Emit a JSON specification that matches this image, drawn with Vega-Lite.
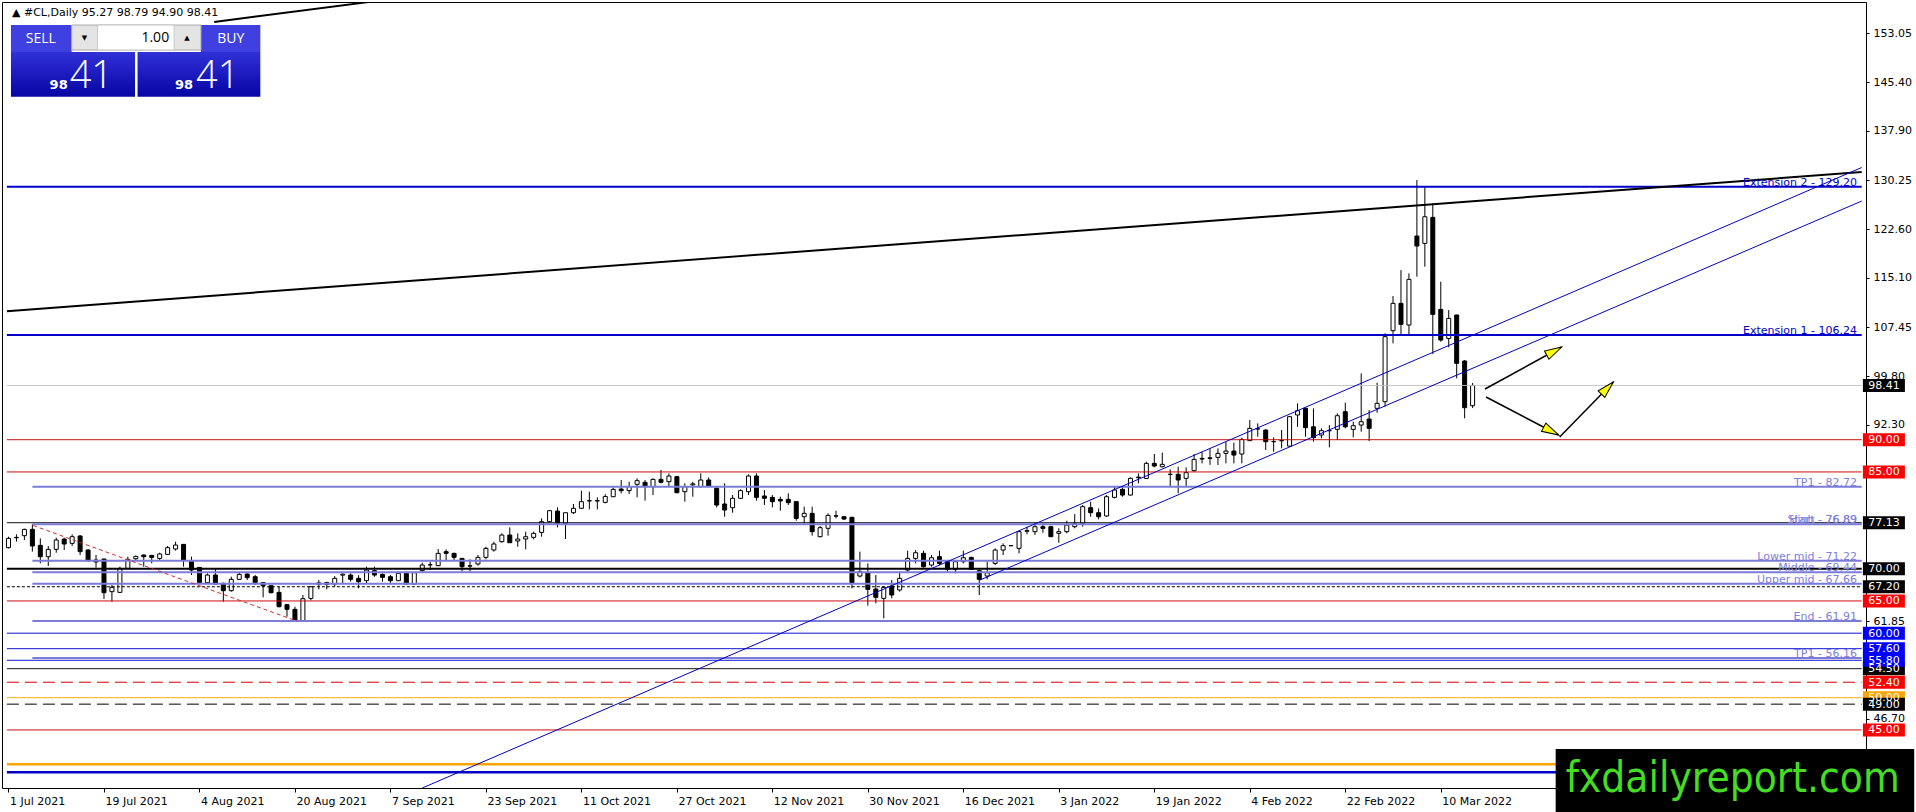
{
  "$schema": "https://vega.github.io/schema/vega-lite/v6.json",
  "width": 1864,
  "height": 786,
  "autosize": {"type": "none"},
  "padding": {"left": 2, "top": 2, "right": 50, "bottom": 24},
  "background": "#ffffff",
  "config": {"view": {"stroke": "#000000", "strokeWidth": 1}, "axis": {"grid": false, "title": null}},
  "datasets": {
    "candles": [
      {"i":0,"o":73.26,"h":74.96,"l":73.15,"c":74.70},{"i":1,"o":74.80,"h":75.32,"l":74.19,"c":74.85},{"i":2,"o":75.12,"h":76.20,"l":74.45,"c":76.10},{"i":3,"o":76.10,"h":76.89,"l":72.64,"c":73.52},{"i":4,"o":73.62,"h":74.70,"l":70.83,"c":71.86},
      {"i":5,"o":71.86,"h":73.52,"l":70.42,"c":73.00},{"i":6,"o":73.00,"h":74.81,"l":72.48,"c":74.45},{"i":7,"o":74.60,"h":74.81,"l":72.90,"c":73.83},{"i":8,"o":73.93,"h":75.32,"l":73.52,"c":74.96},{"i":9,"o":75.07,"h":75.22,"l":72.12,"c":72.64},
      {"i":10,"o":72.90,"h":73.00,"l":71.10,"c":71.24},{"i":11,"o":71.35,"h":72.12,"l":70.16,"c":71.04},{"i":12,"o":71.50,"h":71.55,"l":65.30,"c":66.28},{"i":13,"o":66.44,"h":67.47,"l":64.89,"c":67.11},{"i":14,"o":66.33,"h":70.31,"l":66.30,"c":70.05},
      {"i":15,"o":70.05,"h":71.86,"l":69.90,"c":71.45},{"i":16,"o":71.55,"h":72.02,"l":71.35,"c":71.91},{"i":17,"o":72.12,"h":72.22,"l":70.31,"c":71.86},{"i":18,"o":72.07,"h":72.12,"l":70.83,"c":71.76},{"i":19,"o":71.60,"h":72.48,"l":71.35,"c":72.28},
      {"i":20,"o":72.22,"h":73.52,"l":72.12,"c":73.26},{"i":21,"o":73.05,"h":74.19,"l":72.79,"c":73.67},{"i":22,"o":73.77,"h":73.80,"l":70.31,"c":71.35},{"i":23,"o":71.24,"h":71.86,"l":69.02,"c":69.79},{"i":24,"o":70.20,"h":70.25,"l":67.57,"c":67.83},
      {"i":25,"o":67.83,"h":69.28,"l":67.73,"c":69.02},{"i":26,"o":69.02,"h":70.05,"l":67.62,"c":67.62},{"i":27,"o":67.73,"h":67.83,"l":64.89,"c":66.59},{"i":28,"o":66.59,"h":68.76,"l":66.44,"c":68.35},{"i":29,"o":68.35,"h":69.38,"l":68.24,"c":69.12},
      {"i":30,"o":69.17,"h":69.28,"l":68.24,"c":68.61},{"i":31,"o":68.76,"h":69.02,"l":67.47,"c":67.83},{"i":32,"o":67.83,"h":67.93,"l":65.56,"c":67.37},{"i":33,"o":67.37,"h":67.40,"l":66.18,"c":66.28},{"i":34,"o":66.33,"h":67.21,"l":64.00,"c":64.11},
      {"i":35,"o":64.42,"h":64.52,"l":62.56,"c":63.70},{"i":36,"o":63.70,"h":64.11,"l":61.80,"c":61.95},{"i":37,"o":61.95,"h":65.92,"l":61.89,"c":65.35},{"i":38,"o":65.40,"h":67.25,"l":65.10,"c":67.20},{"i":39,"o":67.60,"h":68.25,"l":66.80,"c":67.80},
      {"i":40,"o":67.85,"h":67.98,"l":66.80,"c":67.57},{"i":41,"o":67.62,"h":68.86,"l":67.21,"c":68.50},{"i":42,"o":69.00,"h":69.28,"l":67.62,"c":69.15},{"i":43,"o":69.02,"h":69.28,"l":68.00,"c":68.35},{"i":44,"o":68.50,"h":69.00,"l":66.95,"c":67.98},
      {"i":45,"o":68.14,"h":70.31,"l":67.62,"c":69.79},{"i":46,"o":69.69,"h":70.31,"l":68.76,"c":69.02},{"i":47,"o":69.12,"h":69.28,"l":67.98,"c":68.66},{"i":48,"o":68.76,"h":69.02,"l":67.62,"c":68.14},{"i":49,"o":68.14,"h":69.54,"l":68.10,"c":69.28},
      {"i":50,"o":69.28,"h":69.54,"l":67.60,"c":67.62},{"i":51,"o":67.62,"h":69.45,"l":67.55,"c":69.38},{"i":52,"o":69.70,"h":70.93,"l":69.54,"c":70.57},{"i":53,"o":70.60,"h":71.10,"l":69.80,"c":70.60},{"i":54,"o":70.47,"h":73.05,"l":70.40,"c":72.38},
      {"i":55,"o":72.64,"h":73.00,"l":71.24,"c":72.38},{"i":56,"o":72.38,"h":72.48,"l":71.35,"c":71.76},{"i":57,"o":71.60,"h":71.65,"l":69.54,"c":70.31},{"i":58,"o":70.40,"h":71.45,"l":69.54,"c":70.45},{"i":59,"o":70.73,"h":72.12,"l":70.47,"c":71.76},
      {"i":60,"o":71.76,"h":73.41,"l":71.45,"c":73.15},{"i":61,"o":72.90,"h":74.19,"l":72.64,"c":73.83},{"i":62,"o":74.19,"h":75.48,"l":74.03,"c":75.22},{"i":63,"o":75.22,"h":76.41,"l":74.00,"c":74.03},{"i":64,"o":74.30,"h":75.48,"l":73.41,"c":74.60},
      {"i":65,"o":74.60,"h":75.74,"l":73.00,"c":74.96},{"i":66,"o":74.86,"h":75.74,"l":74.55,"c":75.48},{"i":67,"o":75.63,"h":77.80,"l":74.96,"c":77.29},{"i":68,"o":77.29,"h":79.10,"l":77.20,"c":79.00},{"i":69,"o":78.94,"h":79.51,"l":76.41,"c":77.03},
      {"i":70,"o":77.03,"h":78.70,"l":74.60,"c":78.68},{"i":71,"o":78.68,"h":80.03,"l":78.48,"c":79.36},{"i":72,"o":79.36,"h":82.10,"l":79.30,"c":80.39},{"i":73,"o":80.50,"h":81.94,"l":79.20,"c":80.55},{"i":74,"o":80.50,"h":81.06,"l":79.20,"c":80.55},
      {"i":75,"o":80.29,"h":81.55,"l":80.13,"c":81.20},{"i":76,"o":81.16,"h":82.56,"l":81.10,"c":82.30},{"i":77,"o":82.35,"h":83.75,"l":81.68,"c":82.10},{"i":78,"o":82.10,"h":83.49,"l":81.58,"c":82.72},{"i":79,"o":83.08,"h":84.01,"l":81.06,"c":83.65},
      {"i":80,"o":83.39,"h":83.75,"l":80.55,"c":82.72},{"i":81,"o":82.72,"h":84.01,"l":81.42,"c":83.85},{"i":82,"o":83.85,"h":85.30,"l":83.23,"c":83.39},{"i":83,"o":83.49,"h":84.78,"l":82.72,"c":84.37},{"i":84,"o":84.27,"h":84.40,"l":81.70,"c":81.78},
      {"i":85,"o":81.94,"h":83.23,"l":80.39,"c":82.72},{"i":86,"o":83.00,"h":83.49,"l":81.16,"c":83.15},{"i":87,"o":82.72,"h":84.78,"l":82.60,"c":83.75},{"i":88,"o":83.75,"h":84.16,"l":82.72,"c":82.82},{"i":89,"o":82.46,"h":82.82,"l":79.51,"c":79.87},
      {"i":90,"o":80.03,"h":83.23,"l":78.06,"c":79.10},{"i":91,"o":79.46,"h":81.42,"l":78.68,"c":80.91},{"i":92,"o":80.91,"h":82.30,"l":80.80,"c":82.10},{"i":93,"o":81.94,"h":84.63,"l":81.42,"c":84.37},{"i":94,"o":84.37,"h":84.78,"l":80.55,"c":81.06},
      {"i":95,"o":81.27,"h":82.20,"l":79.87,"c":80.91},{"i":96,"o":81.06,"h":81.42,"l":79.51,"c":80.39},{"i":97,"o":80.75,"h":81.16,"l":78.99,"c":80.50},{"i":98,"o":80.75,"h":81.68,"l":79.87,"c":80.24},{"i":99,"o":80.39,"h":80.40,"l":77.44,"c":77.80},
      {"i":100,"o":78.06,"h":79.61,"l":77.03,"c":78.58},{"i":101,"o":78.58,"h":79.61,"l":75.12,"c":75.74},{"i":102,"o":74.96,"h":76.62,"l":74.86,"c":76.36},{"i":103,"o":76.26,"h":78.58,"l":75.12,"c":78.27},{"i":104,"o":78.20,"h":78.99,"l":77.80,"c":78.15},
      {"i":105,"o":78.06,"h":78.10,"l":77.55,"c":77.70},{"i":106,"o":77.96,"h":78.06,"l":66.95,"c":67.83},{"i":107,"o":68.86,"h":72.64,"l":68.65,"c":69.54},{"i":108,"o":69.38,"h":70.83,"l":64.27,"c":66.80},{"i":109,"o":66.85,"h":69.02,"l":64.63,"c":65.56},
      {"i":110,"o":65.40,"h":67.21,"l":62.30,"c":67.11},{"i":111,"o":67.31,"h":68.24,"l":65.40,"c":65.92},{"i":112,"o":66.70,"h":69.54,"l":66.44,"c":68.50},{"i":113,"o":69.79,"h":72.79,"l":69.54,"c":71.60},{"i":114,"o":71.60,"h":72.89,"l":70.83,"c":72.48},
      {"i":115,"o":72.38,"h":72.79,"l":70.15,"c":70.31},{"i":116,"o":70.57,"h":72.12,"l":70.31,"c":71.70},{"i":117,"o":71.86,"h":72.79,"l":70.57,"c":70.83},{"i":118,"o":71.08,"h":71.34,"l":69.38,"c":69.90},{"i":119,"o":69.90,"h":71.34,"l":69.28,"c":71.08},
      {"i":120,"o":71.08,"h":72.79,"l":70.83,"c":71.70},{"i":121,"o":71.75,"h":71.86,"l":69.90,"c":69.90},{"i":122,"o":69.69,"h":70.05,"l":65.92,"c":68.35},{"i":123,"o":68.86,"h":71.08,"l":68.35,"c":69.38},{"i":124,"o":70.83,"h":73.15,"l":70.57,"c":72.89},
      {"i":125,"o":72.89,"h":73.93,"l":72.12,"c":73.57},{"i":126,"o":73.57,"h":73.60,"l":73.55,"c":73.57},{"i":127,"o":73.15,"h":75.89,"l":72.38,"c":75.74},{"i":128,"o":75.80,"h":76.51,"l":75.33,"c":75.90},{"i":129,"o":75.74,"h":77.13,"l":75.22,"c":76.51},
      {"i":130,"o":76.51,"h":77.13,"l":75.58,"c":76.25},{"i":131,"o":76.51,"h":76.66,"l":74.96,"c":74.96},{"i":132,"o":75.48,"h":76.26,"l":74.03,"c":75.74},{"i":133,"o":75.74,"h":77.44,"l":75.48,"c":76.77},{"i":134,"o":76.51,"h":78.48,"l":76.26,"c":77.03},
      {"i":135,"o":77.03,"h":79.87,"l":76.51,"c":79.61},{"i":136,"o":79.46,"h":80.39,"l":78.06,"c":78.68},{"i":137,"o":78.68,"h":79.35,"l":77.65,"c":78.06},{"i":138,"o":78.17,"h":81.42,"l":78.06,"c":81.16},{"i":139,"o":81.06,"h":82.82,"l":80.90,"c":82.20},
      {"i":140,"o":82.30,"h":82.82,"l":81.16,"c":81.42},{"i":141,"o":81.42,"h":84.16,"l":81.32,"c":84.01},{"i":142,"o":84.10,"h":84.78,"l":83.23,"c":84.20},{"i":143,"o":84.00,"h":86.59,"l":83.90,"c":86.33},{"i":144,"o":86.33,"h":87.78,"l":85.71,"c":85.92},
      {"i":145,"o":85.81,"h":87.98,"l":85.71,"c":86.18},{"i":146,"o":84.60,"h":85.40,"l":82.70,"c":84.65},{"i":147,"o":84.63,"h":85.81,"l":81.68,"c":83.75},{"i":148,"o":84.00,"h":85.71,"l":82.72,"c":84.89},{"i":149,"o":85.20,"h":87.78,"l":85.04,"c":86.95},
      {"i":150,"o":87.00,"h":88.14,"l":86.33,"c":87.10},{"i":151,"o":87.10,"h":88.66,"l":86.10,"c":87.20},{"i":152,"o":87.26,"h":88.66,"l":86.07,"c":87.88},{"i":153,"o":87.88,"h":89.69,"l":86.33,"c":88.24},{"i":154,"o":88.24,"h":89.54,"l":86.33,"c":87.62},
      {"i":155,"o":87.78,"h":90.31,"l":86.33,"c":90.05},{"i":156,"o":89.85,"h":93.05,"l":89.80,"c":91.76},{"i":157,"o":91.66,"h":92.53,"l":90.46,"c":91.70},{"i":158,"o":91.50,"h":91.60,"l":88.40,"c":89.69},{"i":159,"o":89.70,"h":90.36,"l":88.14,"c":89.70},
      {"i":160,"o":89.85,"h":91.50,"l":88.66,"c":89.85},{"i":161,"o":89.00,"h":93.67,"l":88.90,"c":93.57},{"i":162,"o":93.83,"h":95.63,"l":92.00,"c":94.49},{"i":163,"o":94.86,"h":95.00,"l":90.46,"c":91.86},{"i":164,"o":92.00,"h":94.86,"l":89.69,"c":90.31},
      {"i":165,"o":90.72,"h":91.76,"l":90.20,"c":91.40},{"i":166,"o":91.40,"h":92.27,"l":88.81,"c":91.40},{"i":167,"o":91.60,"h":94.08,"l":89.95,"c":93.72},{"i":168,"o":94.34,"h":95.74,"l":91.76,"c":92.00},{"i":169,"o":91.60,"h":92.79,"l":90.36,"c":92.17},
      {"i":170,"o":92.27,"h":100.28,"l":91.24,"c":92.79},{"i":171,"o":93.20,"h":94.60,"l":89.80,"c":91.76},{"i":172,"o":94.86,"h":98.84,"l":94.18,"c":95.63},{"i":173,"o":95.89,"h":106.50,"l":95.12,"c":105.97},{"i":174,"o":106.90,"h":112.27,"l":104.94,"c":111.14},
      {"i":175,"o":111.14,"h":116.30,"l":106.23,"c":107.88},{"i":176,"o":107.78,"h":115.79,"l":106.23,"c":114.86},{"i":177,"o":121.58,"h":130.26,"l":115.27,"c":120.03},{"i":178,"o":120.44,"h":129.33,"l":116.82,"c":124.57},{"i":179,"o":124.47,"h":126.64,"l":103.28,"c":109.43},
      {"i":180,"o":110.20,"h":114.50,"l":105.19,"c":105.45},{"i":181,"o":105.70,"h":110.10,"l":104.32,"c":108.81},{"i":182,"o":109.33,"h":109.40,"l":99.51,"c":101.84},{"i":183,"o":102.20,"h":102.35,"l":93.31,"c":94.96},{"i":184,"o":95.27,"h":98.79,"l":94.90,"c":98.41}
    ],
    "levels": [
      {"p":129.20,"kind":"ext","i":-0.2,"box":false},
      {"p":106.24,"kind":"ext","i":-0.2,"box":false},
      {"p":90.00,"kind":"red","i":-0.2,"box":true},
      {"p":85.00,"kind":"red","i":-0.2,"box":true},
      {"p":82.72,"kind":"fib","i":3,"box":false},
      {"p":77.13,"kind":"blk1","i":-0.2,"box":true},
      {"p":76.89,"kind":"fib","i":3,"box":false},
      {"p":71.22,"kind":"fib","i":3,"box":false},
      {"p":70.00,"kind":"blk2","i":-0.2,"box":true},
      {"p":69.44,"kind":"fib","i":3,"box":false},
      {"p":67.66,"kind":"fib","i":3,"box":false},
      {"p":67.20,"kind":"dot","i":-0.2,"box":true},
      {"p":65.00,"kind":"red","i":-0.2,"box":true},
      {"p":61.91,"kind":"fib","i":3,"box":false},
      {"p":60.00,"kind":"blue","i":-0.2,"box":true},
      {"p":56.16,"kind":"fib","i":3,"box":false},
      {"p":54.50,"kind":"blk1","i":-0.2,"box":true},
      {"p":55.80,"kind":"blue","i":-0.2,"box":true},
      {"p":57.60,"kind":"blue","i":-0.2,"box":true},
      {"p":52.40,"kind":"reddash","i":-0.2,"box":true},
      {"p":50.00,"kind":"orange","i":-0.2,"box":true},
      {"p":49.00,"kind":"blkdash","i":-0.2,"box":true},
      {"p":45.00,"kind":"red","i":-0.2,"box":true},
      {"p":39.70,"kind":"orange2","i":-0.2,"box":false},
      {"p":38.45,"kind":"navy2","i":-0.2,"box":false},
      {"p":98.41,"kind":"cur","i":-0.2,"box":true}
    ],
    "tags": [
      {"p":129.20,"t":"Extension 2 - 129.20","kind":"ext"},
      {"p":106.24,"t":"Extension 1 - 106.24","kind":"ext"},
      {"p":82.72,"t":"TP1 - 82.72","kind":"fib"},
      {"p":76.89,"t":"Start - 76.89","kind":"fib"},
      {"p":76.89,"t":"High - 76.89","kind":"fib"},
      {"p":71.22,"t":"Lower mid - 71.22","kind":"fib"},
      {"p":69.44,"t":"Middle - 69.44","kind":"fib"},
      {"p":67.66,"t":"Upper mid - 67.66","kind":"fib"},
      {"p":61.91,"t":"End - 61.91","kind":"fib"},
      {"p":56.16,"t":"TP1 - 56.16","kind":"fib"}
    ],
    "trends": [
      {"id":"t1","kind":"blk","i":-0.2,"p":109.93},{"id":"t1","kind":"blk","i":232.9,"p":131.5},
      {"id":"t2","kind":"blk","i":25.85,"p":154.76},{"id":"t2","kind":"blk","i":46.2,"p":158.0},
      {"id":"up","kind":"chan","i":52.0,"p":36.0},{"id":"up","kind":"chan","i":232.9,"p":132.2},
      {"id":"lo","kind":"chan","i":122.1,"p":68.25},{"id":"lo","kind":"chan","i":232.9,"p":127.0},
      {"id":"dn","kind":"dash","i":3.1,"p":76.7},{"id":"dn","kind":"dash","i":36.3,"p":61.85}
    ],
    "arrows": [
      {"id":"a1","i":185.56,"p":97.86},{"id":"a1","i":195.19,"p":104.37},
      {"id":"a2","i":185.69,"p":96.62},{"id":"a2","i":194.81,"p":90.73},
      {"id":"a3","i":194.94,"p":90.42},{"id":"a3","i":201.69,"p":98.95}
    ],
    "heads": [
      {"id":"a1","i":194.25,"p":103.74},
      {"id":"a2","i":193.88,"p":91.33},
      {"id":"a3","i":200.94,"p":98.0}
    ],
    "panel": [
      {"part":"top","i":0.31,"i2":7.94,"p":154.29,"p2":150.11},
      {"part":"top","i":24.19,"i2":31.65,"p":154.29,"p2":150.11},
      {"part":"spin","i":7.94,"i2":24.19,"p":154.29,"p2":150.42},
      {"part":"field","i":11.19,"i2":20.81,"p":154.29,"p2":150.42},
      {"part":"body","i":0.31,"i2":15.9,"p":150.11,"p2":143.18},
      {"part":"body","i":16.22,"i2":31.65,"p":150.11,"p2":143.18}
    ],
    "ptext": [
      {"role":"head","t":"▲  #CL,Daily  95.27 98.79 94.90 98.41","i":0.44,"p":156.15},
      {"role":"btn","t":"SELL","i":4.06,"p":152.12},
      {"role":"btn","t":"BUY","i":27.94,"p":152.12},
      {"role":"lot","t":"1.00","i":20.19,"p":152.28},
      {"role":"arr","t":"▼","i":9.56,"p":152.28},
      {"role":"arr","t":"▲","i":22.44,"p":152.28},
      {"role":"small","t":"98","i":7.44,"p":144.37},
      {"role":"small","t":"98","i":23.19,"p":144.37},
      {"role":"big","t":"41","i":7.69,"p":144.53},
      {"role":"big","t":"41","i":23.56,"p":144.53}
    ],
    "mark": [
      {"t":"fxdailyreport.com","i":194.44,"i2":239.5,"p":42.05,"p2":30.0,"ti":216.69,"tp":35.38}
    ]
  },
  "layer": [
    {
      "data": {"name": "candles"},
      "mark": {"type": "rule", "color": "#000000", "strokeWidth": 1},
      "encoding": {
        "x": {"field": "i", "type": "quantitative", "scale": {"domain": [-0.1875, 232.8125], "nice": false, "zero": false},
          "axis": {"orient": "bottom", "values": [0,12,24,36,48,60,72,84,96,108,120,132,144,156,168,180],
            "labelExpr": "['1 Jul 2021','19 Jul 2021','4 Aug 2021','20 Aug 2021','7 Sep 2021','23 Sep 2021','11 Oct 2021','27 Oct 2021','12 Nov 2021','30 Nov 2021','16 Dec 2021','3 Jan 2022','19 Jan 2022','4 Feb 2022','22 Feb 2022','10 Mar 2022'][datum.value/12]",
            "title": null, "grid": false, "domain": false, "ticks": true, "tickSize": 4, "tickColor": "#000000",
            "labelAlign": "left", "labelBaseline": "top", "labelPadding": 3, "labelOffset": 1,
            "labelFont": "DejaVu Sans", "labelFontSize": 11, "labelColor": "#000000",
            "labelOverlap": false, "labelFlush": false, "labelBound": false}},
        "y": {"field": "l", "type": "quantitative", "scale": {"domain": [36.0, 157.86], "nice": false, "zero": false},
          "axis": {"orient": "right", "values": [153.05,145.40,137.90,130.25,122.60,115.10,107.45,99.80,92.30,61.85,46.70],
            "format": ".2f", "title": null, "grid": false, "domain": false, "ticks": true, "tickSize": 3, "tickColor": "#000000",
            "labelPadding": 4, "labelFont": "DejaVu Sans", "labelFontSize": 11, "labelColor": "#000000",
            "labelAlign": "left", "labelBaseline": "middle", "labelOverlap": false, "labelFlush": false, "labelBound": false}},
        "y2": {"field": "h"}
      }
    },
    {
      "data": {"name": "candles"},
      "mark": {"type": "bar", "width": 4, "stroke": "#000000", "strokeWidth": 1},
      "encoding": {
        "x": {"field": "i", "type": "quantitative", "scale": {"domain": [-0.1875, 232.8125], "nice": false, "zero": false}},
        "y": {"field": "o", "type": "quantitative", "scale": {"domain": [36.0, 157.86], "nice": false, "zero": false}},
        "y2": {"field": "c"},
        "fill": {"condition": {"test": "datum.c >= datum.o", "value": "#ffffff"}, "value": "#000000"}
      }
    },
    {
      "data": {"name": "levels"},
      "transform": [{"filter": "indexof(['cur','red','blk1','dot','blue','reddash','orange','blkdash'], datum.kind) >= 0"}],
      "mark": {"type": "rule", "strokeWidth": 1, "clip": true},
      "encoding": {
        "x": {"field": "i", "type": "quantitative", "scale": {"domain": [-0.1875, 232.8125], "nice": false, "zero": false}},
        "x2": {"datum": 232.9},
        "y": {"field": "p", "type": "quantitative", "scale": {"domain": [36.0, 157.86], "nice": false, "zero": false}},
        "stroke": {"field": "kind", "type": "nominal", "legend": null,
          "scale": {"domain": ["ext","cur","red","fib","blk1","blk2","dot","blue","reddash","orange","blkdash","orange2","navy2"],
            "range": ["#0000c8","#c0c0c0","#c80000","#7b7bd8","#000000","#000000","#000000","#0000d0","#d00000","#ffa500","#000000","#ffa500","#0000c0"]}},
        "strokeDash": {"field": "kind", "type": "nominal", "legend": null,
          "scale": {"domain": ["ext","cur","red","fib","blk1","blk2","dot","blue","reddash","orange","blkdash","orange2","navy2"],
            "range": [[1,0],[1,0],[1,0],[1,0],[1,0],[1,0],[3,2],[1,0],[12,6],[1,0],[12,6],[1,0],[1,0]]}}
      }
    },
    {
      "data": {"name": "levels"},
      "transform": [{"filter": "indexof(['ext','fib','blk2'], datum.kind) >= 0"}],
      "mark": {"type": "rule", "strokeWidth": 2, "clip": true},
      "encoding": {
        "x": {"field": "i", "type": "quantitative", "scale": {"domain": [-0.1875, 232.8125], "nice": false, "zero": false}},
        "x2": {"datum": 232.9},
        "y": {"field": "p", "type": "quantitative", "scale": {"domain": [36.0, 157.86], "nice": false, "zero": false}},
        "stroke": {"field": "kind", "type": "nominal", "legend": null,
          "scale": {"domain": ["ext","cur","red","fib","blk1","blk2","dot","blue","reddash","orange","blkdash","orange2","navy2"],
            "range": ["#0000c8","#c0c0c0","#c80000","#7b7bd8","#000000","#000000","#000000","#0000d0","#d00000","#ffa500","#000000","#ffa500","#0000c0"]}}
      }
    },
    {
      "data": {"name": "levels"},
      "transform": [{"filter": "indexof(['orange2','navy2'], datum.kind) >= 0"}],
      "mark": {"type": "rule", "strokeWidth": 2.5, "clip": true},
      "encoding": {
        "x": {"field": "i", "type": "quantitative", "scale": {"domain": [-0.1875, 232.8125], "nice": false, "zero": false}},
        "x2": {"datum": 232.9},
        "y": {"field": "p", "type": "quantitative", "scale": {"domain": [36.0, 157.86], "nice": false, "zero": false}},
        "stroke": {"field": "kind", "type": "nominal", "legend": null,
          "scale": {"domain": ["ext","cur","red","fib","blk1","blk2","dot","blue","reddash","orange","blkdash","orange2","navy2"],
            "range": ["#0000c8","#c0c0c0","#c80000","#7b7bd8","#000000","#000000","#000000","#0000d0","#d00000","#ffa500","#000000","#ffa500","#0000c0"]}}
      }
    },
    {
      "data": {"name": "trends"},
      "transform": [{"filter": "datum.kind == 'blk'"}],
      "mark": {"type": "line", "color": "#000000", "strokeWidth": 2, "clip": true},
      "encoding": {
        "x": {"field": "i", "type": "quantitative", "scale": {"domain": [-0.1875, 232.8125], "nice": false, "zero": false}},
        "y": {"field": "p", "type": "quantitative", "scale": {"domain": [36.0, 157.86], "nice": false, "zero": false}},
        "detail": {"field": "id"}
      }
    },
    {
      "data": {"name": "trends"},
      "transform": [{"filter": "datum.kind == 'chan'"}],
      "mark": {"type": "line", "color": "#0000c8", "strokeWidth": 1, "clip": true},
      "encoding": {
        "x": {"field": "i", "type": "quantitative", "scale": {"domain": [-0.1875, 232.8125], "nice": false, "zero": false}},
        "y": {"field": "p", "type": "quantitative", "scale": {"domain": [36.0, 157.86], "nice": false, "zero": false}},
        "detail": {"field": "id"}
      }
    },
    {
      "data": {"name": "trends"},
      "transform": [{"filter": "datum.kind == 'dash'"}],
      "mark": {"type": "line", "color": "#c83232", "strokeWidth": 1, "strokeDash": [4, 3], "clip": true},
      "encoding": {
        "x": {"field": "i", "type": "quantitative", "scale": {"domain": [-0.1875, 232.8125], "nice": false, "zero": false}},
        "y": {"field": "p", "type": "quantitative", "scale": {"domain": [36.0, 157.86], "nice": false, "zero": false}},
        "detail": {"field": "id"}
      }
    },
    {
      "data": {"name": "tags"},
      "mark": {"type": "text", "align": "right", "baseline": "alphabetic", "dy": -1, "font": "DejaVu Sans", "fontSize": 11},
      "encoding": {
        "x": {"datum": 232.3, "type": "quantitative", "scale": {"domain": [-0.1875, 232.8125], "nice": false, "zero": false}},
        "y": {"field": "p", "type": "quantitative", "scale": {"domain": [36.0, 157.86], "nice": false, "zero": false}},
        "text": {"field": "t"},
        "color": {"condition": {"test": "datum.kind == 'ext'", "value": "#0000c8"}, "value": "#8080dd"}
      }
    },
    {
      "data": {"name": "arrows"},
      "mark": {"type": "line", "color": "#000000", "strokeWidth": 1.5, "clip": true},
      "encoding": {
        "x": {"field": "i", "type": "quantitative", "scale": {"domain": [-0.1875, 232.8125], "nice": false, "zero": false}},
        "y": {"field": "p", "type": "quantitative", "scale": {"domain": [36.0, 157.86], "nice": false, "zero": false}},
        "detail": {"field": "id"}
      }
    },
    {
      "data": {"name": "heads"},
      "transform": [{"filter": "datum.id == 'a1'"}],
      "mark": {"type": "point", "shape": "M1,0L-1,-0.55L-1,0.55Z", "size": 289, "filled": true, "fill": "#ffff00", "stroke": "#000000", "strokeWidth": 1, "opacity": 1, "angle": 331.4},
      "encoding": {
        "x": {"field": "i", "type": "quantitative", "scale": {"domain": [-0.1875, 232.8125], "nice": false, "zero": false}},
        "y": {"field": "p", "type": "quantitative", "scale": {"domain": [36.0, 157.86], "nice": false, "zero": false}}
      }
    },
    {
      "data": {"name": "heads"},
      "transform": [{"filter": "datum.id == 'a2'"}],
      "mark": {"type": "point", "shape": "M1,0L-1,-0.55L-1,0.55Z", "size": 289, "filled": true, "fill": "#ffff00", "stroke": "#000000", "strokeWidth": 1, "opacity": 1, "angle": 27.5},
      "encoding": {
        "x": {"field": "i", "type": "quantitative", "scale": {"domain": [-0.1875, 232.8125], "nice": false, "zero": false}},
        "y": {"field": "p", "type": "quantitative", "scale": {"domain": [36.0, 157.86], "nice": false, "zero": false}}
      }
    },
    {
      "data": {"name": "heads"},
      "transform": [{"filter": "datum.id == 'a3'"}],
      "mark": {"type": "point", "shape": "M1,0L-1,-0.55L-1,0.55Z", "size": 289, "filled": true, "fill": "#ffff00", "stroke": "#000000", "strokeWidth": 1, "opacity": 1, "angle": 314.5},
      "encoding": {
        "x": {"field": "i", "type": "quantitative", "scale": {"domain": [-0.1875, 232.8125], "nice": false, "zero": false}},
        "y": {"field": "p", "type": "quantitative", "scale": {"domain": [36.0, 157.86], "nice": false, "zero": false}}
      }
    },
    {
      "data": {"name": "panel"},
      "transform": [{"filter": "datum.part == 'top'"}],
      "mark": {"type": "rect", "color": "#4040e0"},
      "encoding": {
        "x": {"field": "i", "type": "quantitative", "scale": {"domain": [-0.1875, 232.8125], "nice": false, "zero": false}},
        "x2": {"field": "i2"},
        "y": {"field": "p", "type": "quantitative", "scale": {"domain": [36.0, 157.86], "nice": false, "zero": false}},
        "y2": {"field": "p2"}
      }
    },
    {
      "data": {"name": "panel"},
      "transform": [{"filter": "datum.part == 'spin'"}],
      "mark": {"type": "rect", "fill": "#e4e4e4", "stroke": "#a8a8a8", "strokeWidth": 1},
      "encoding": {
        "x": {"field": "i", "type": "quantitative", "scale": {"domain": [-0.1875, 232.8125], "nice": false, "zero": false}},
        "x2": {"field": "i2"},
        "y": {"field": "p", "type": "quantitative", "scale": {"domain": [36.0, 157.86], "nice": false, "zero": false}},
        "y2": {"field": "p2"}
      }
    },
    {
      "data": {"name": "panel"},
      "transform": [{"filter": "datum.part == 'field'"}],
      "mark": {"type": "rect", "fill": "#ffffff", "stroke": "#c8c8c8", "strokeWidth": 1},
      "encoding": {
        "x": {"field": "i", "type": "quantitative", "scale": {"domain": [-0.1875, 232.8125], "nice": false, "zero": false}},
        "x2": {"field": "i2"},
        "y": {"field": "p", "type": "quantitative", "scale": {"domain": [36.0, 157.86], "nice": false, "zero": false}},
        "y2": {"field": "p2"}
      }
    },
    {
      "data": {"name": "panel"},
      "transform": [{"filter": "datum.part == 'body'"}],
      "mark": {"type": "rect", "fill": {"x1": 0, "y1": 0, "x2": 0, "y2": 1, "gradient": "linear", "stops": [{"offset": 0, "color": "#3030d8"}, {"offset": 1, "color": "#0606a4"}]}},
      "encoding": {
        "x": {"field": "i", "type": "quantitative", "scale": {"domain": [-0.1875, 232.8125], "nice": false, "zero": false}},
        "x2": {"field": "i2"},
        "y": {"field": "p", "type": "quantitative", "scale": {"domain": [36.0, 157.86], "nice": false, "zero": false}},
        "y2": {"field": "p2"}
      }
    },
    {
      "data": {"name": "ptext"},
      "transform": [{"filter": "datum.role == 'head'"}],
      "mark": {"type": "text", "align": "left", "baseline": "middle", "font": "DejaVu Sans", "fontSize": 11, "color": "#000000"},
      "encoding": {
        "x": {"field": "i", "type": "quantitative", "scale": {"domain": [-0.1875, 232.8125], "nice": false, "zero": false}},
        "y": {"field": "p", "type": "quantitative", "scale": {"domain": [36.0, 157.86], "nice": false, "zero": false}},
        "text": {"field": "t"}
      }
    },
    {
      "data": {"name": "ptext"},
      "transform": [{"filter": "datum.role == 'btn'"}],
      "mark": {"type": "text", "align": "center", "baseline": "middle", "font": "Open Sans", "fontSize": 14, "color": "#ffffff"},
      "encoding": {
        "x": {"field": "i", "type": "quantitative", "scale": {"domain": [-0.1875, 232.8125], "nice": false, "zero": false}},
        "y": {"field": "p", "type": "quantitative", "scale": {"domain": [36.0, 157.86], "nice": false, "zero": false}},
        "text": {"field": "t"}
      }
    },
    {
      "data": {"name": "ptext"},
      "transform": [{"filter": "datum.role == 'lot'"}],
      "mark": {"type": "text", "align": "right", "baseline": "middle", "font": "Open Sans", "fontSize": 14, "color": "#000000"},
      "encoding": {
        "x": {"field": "i", "type": "quantitative", "scale": {"domain": [-0.1875, 232.8125], "nice": false, "zero": false}},
        "y": {"field": "p", "type": "quantitative", "scale": {"domain": [36.0, 157.86], "nice": false, "zero": false}},
        "text": {"field": "t"}
      }
    },
    {
      "data": {"name": "ptext"},
      "transform": [{"filter": "datum.role == 'arr'"}],
      "mark": {"type": "text", "align": "center", "baseline": "middle", "font": "DejaVu Sans", "fontSize": 7, "color": "#000000"},
      "encoding": {
        "x": {"field": "i", "type": "quantitative", "scale": {"domain": [-0.1875, 232.8125], "nice": false, "zero": false}},
        "y": {"field": "p", "type": "quantitative", "scale": {"domain": [36.0, 157.86], "nice": false, "zero": false}},
        "text": {"field": "t"}
      }
    },
    {
      "data": {"name": "ptext"},
      "transform": [{"filter": "datum.role == 'small'"}],
      "mark": {"type": "text", "align": "right", "baseline": "alphabetic", "font": "DejaVu Sans", "fontSize": 13, "fontWeight": "bold", "color": "#ffffff"},
      "encoding": {
        "x": {"field": "i", "type": "quantitative", "scale": {"domain": [-0.1875, 232.8125], "nice": false, "zero": false}},
        "y": {"field": "p", "type": "quantitative", "scale": {"domain": [36.0, 157.86], "nice": false, "zero": false}},
        "text": {"field": "t"}
      }
    },
    {
      "data": {"name": "ptext"},
      "transform": [{"filter": "datum.role == 'big'"}],
      "mark": {"type": "text", "align": "left", "baseline": "alphabetic", "font": "Open Sans", "fontSize": 38, "fontWeight": 300, "color": "#ffffff"},
      "encoding": {
        "x": {"field": "i", "type": "quantitative", "scale": {"domain": [-0.1875, 232.8125], "nice": false, "zero": false}},
        "y": {"field": "p", "type": "quantitative", "scale": {"domain": [36.0, 157.86], "nice": false, "zero": false}},
        "text": {"field": "t"}
      }
    },
    {
      "data": {"name": "levels"},
      "transform": [{"filter": "datum.box"}],
      "mark": {"type": "point", "shape": "M-1,-0.31H1V0.31H-1Z", "size": 1764, "filled": true, "opacity": 1, "strokeWidth": 0, "clip": false},
      "encoding": {
        "x": {"datum": 235.69, "type": "quantitative", "scale": {"domain": [-0.1875, 232.8125], "nice": false, "zero": false}},
        "y": {"field": "p", "type": "quantitative", "scale": {"domain": [36.0, 157.86], "nice": false, "zero": false}},
        "fill": {"field": "kind", "type": "nominal", "legend": null,
          "scale": {"domain": ["ext","cur","red","fib","blk1","blk2","dot","blue","reddash","orange","blkdash","orange2","navy2"],
            "range": ["#0000c8","#000000","#ff0000","#7b7bd8","#000000","#000000","#000000","#0000ff","#ff0000","#ffa500","#000000","#ffa500","#0000c0"]}}
      }
    },
    {
      "data": {"name": "levels"},
      "transform": [{"filter": "datum.box"}],
      "mark": {"type": "text", "align": "center", "baseline": "middle", "dy": 0.5, "font": "DejaVu Sans", "fontSize": 11, "color": "#ffffff", "clip": false},
      "encoding": {
        "x": {"datum": 235.69, "type": "quantitative", "scale": {"domain": [-0.1875, 232.8125], "nice": false, "zero": false}},
        "y": {"field": "p", "type": "quantitative", "scale": {"domain": [36.0, 157.86], "nice": false, "zero": false}},
        "text": {"field": "p", "type": "quantitative", "format": ".2f"}
      }
    },
    {
      "data": {"name": "mark"},
      "mark": {"type": "rect", "color": "#000000", "clip": false},
      "encoding": {
        "x": {"field": "i", "type": "quantitative", "scale": {"domain": [-0.1875, 232.8125], "nice": false, "zero": false}},
        "x2": {"field": "i2"},
        "y": {"field": "p", "type": "quantitative", "scale": {"domain": [36.0, 157.86], "nice": false, "zero": false}},
        "y2": {"field": "p2"}
      }
    },
    {
      "data": {"name": "mark"},
      "mark": {"type": "text", "align": "center", "baseline": "alphabetic", "font": "Liberation Sans Narrow, DejaVu Sans Condensed, Liberation Sans", "fontSize": 42, "color": "#44dd22", "clip": false},
      "encoding": {
        "x": {"field": "ti", "type": "quantitative", "scale": {"domain": [-0.1875, 232.8125], "nice": false, "zero": false}},
        "y": {"field": "tp", "type": "quantitative", "scale": {"domain": [36.0, 157.86], "nice": false, "zero": false}},
        "text": {"field": "t"}
      }
    }
  ]
}
